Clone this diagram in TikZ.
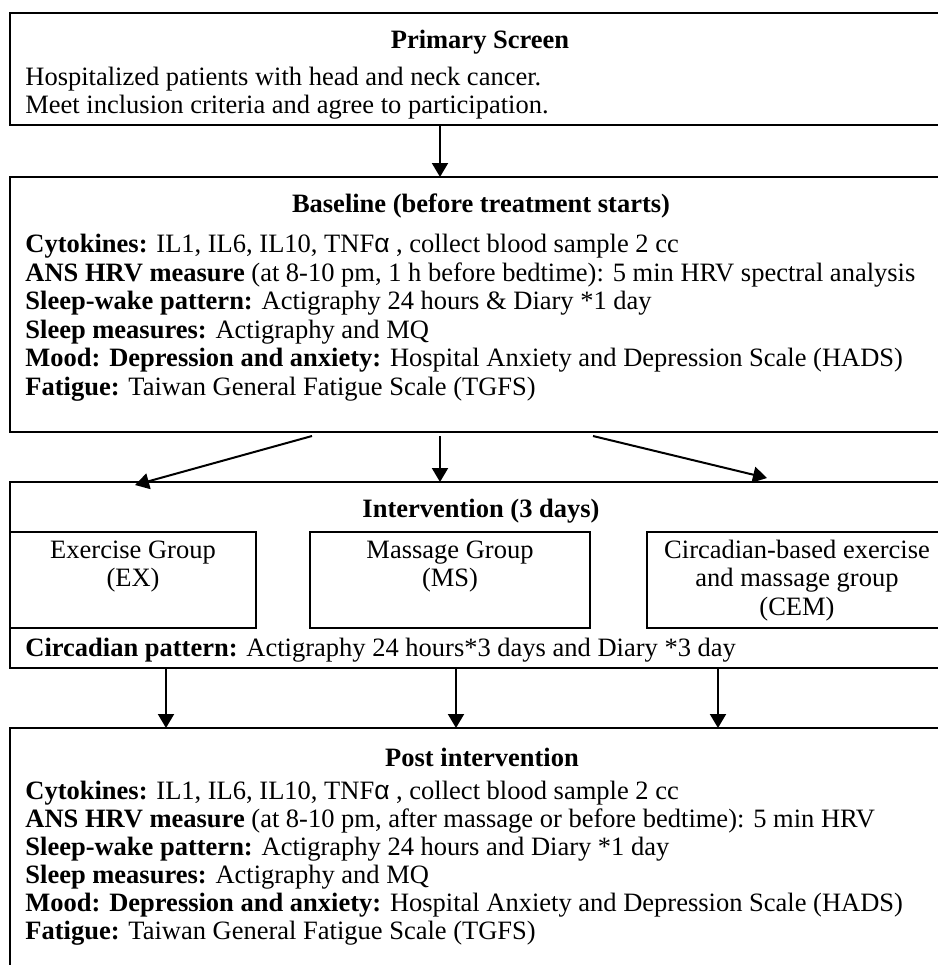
\documentclass[tikz,border=0pt]{standalone}
\usepackage{fontspec}
\setmainfont{Liberation Serif}
\newfontfamily\alphafont{Liberation Sans}
\usetikzlibrary{arrows.meta}
\newcommand{\alf}{{\alphafont α}}
\begin{document}
\begin{tikzpicture}[x=0.5pt,y=-0.5pt,
  box/.style={draw,line width=1pt,inner sep=0pt,outer sep=0pt,anchor=north west},
  conn/.style={line width=1pt,-{Triangle[length=7pt,width=8pt]}},
  txt/.style={anchor=base west,inner sep=0pt,font=\fontsize{13.25}{15}\selectfont},
  ttl/.style={anchor=base,inner sep=0pt,font=\fontsize{13.25}{15}\selectfont\bfseries},
  ctr/.style={anchor=base,inner sep=0pt,font=\fontsize{13.25}{15}\selectfont}]
\useasboundingbox (0,0) rectangle (938,965);
\clip (0,0) rectangle (938,965);
\fill[white] (0,0) rectangle (938,965);

% boxes
\node[box,minimum width=475pt,minimum height=56pt] (prim) at (10,13) {};
\node[box,minimum width=475pt,minimum height=127.5pt] (base) at (10,177) {};
\node[box,minimum width=475pt,minimum height=93pt] (intv) at (10,482) {};
\node[box,minimum width=123pt,minimum height=48pt] (ex) at (10,532) {};
\node[box,minimum width=140pt,minimum height=48pt] (ms) at (310,532) {};
\node[box,minimum width=200pt,minimum height=48pt] (cem) at (647,532) {};
\node[box,minimum width=475pt,minimum height=150pt] (post) at (10,728) {};

% primary screen
\node[ttl] (t1) at (480,48) {Primary Screen};
\node[txt] (p1) at (25,85) {Hospitalized patients with head and neck cancer.};
\node[txt] (p2) at (25,113) {Meet inclusion criteria and agree to participation.};

% baseline
\node[ttl] (t2) at (481,212) {Baseline (before treatment starts)};
\node[txt] (b1) at (25,252) {\textbf{Cytokines:} IL1, IL6, IL10, TNF\alf\ , collect blood sample 2 cc};
\node[txt] (b2) at (25,281) {\textbf{ANS HRV measure} (at 8-10 pm, 1 h before bedtime): 5 min HRV spectral analysis};
\node[txt] (b3) at (25,309) {\textbf{Sleep-wake pattern:} Actigraphy 24 hours \& Diary *1 day};
\node[txt] (b4) at (25,338) {\textbf{Sleep measures:} Actigraphy and MQ};
\node[txt] (b5) at (25,366) {\textbf{Mood: Depression and anxiety:} Hospital Anxiety and Depression Scale (HADS)};
\node[txt] (b6) at (25,395) {\textbf{Fatigue:} Taiwan General Fatigue Scale (TGFS)};

% intervention
\node[ttl] (t3) at (481,517) {Intervention (3 days)};
\node[ctr] (e1) at (133,558) {Exercise Group};
\node[ctr] (e2) at (133,586) {(EX)};
\node[ctr] (m1) at (450,558) {Massage Group};
\node[ctr] (m2) at (450,586) {(MS)};
\node[ctr] (c1) at (797,558) {Circadian-based exercise};
\node[ctr] (c2) at (797,586) {and massage group};
\node[ctr] (c3) at (797,615) {(CEM)};
\node[txt] (i1) at (25,656) {\textbf{Circadian pattern:} Actigraphy 24 hours*3 days and Diary *3 day};

% post
\node[ttl] (t4) at (482,766) {Post intervention};
\node[txt] (q1) at (25,799) {\textbf{Cytokines:} IL1, IL6, IL10, TNF\alf\ , collect blood sample 2 cc};
\node[txt] (q2) at (25,827) {\textbf{ANS HRV measure} (at 8-10 pm, after massage or before bedtime): 5 min HRV};
\node[txt] (q3) at (25,855) {\textbf{Sleep-wake pattern:} Actigraphy 24 hours and Diary *1 day};
\node[txt] (q4) at (25,883) {\textbf{Sleep measures:} Actigraphy and MQ};
\node[txt] (q5) at (25,911) {\textbf{Mood: Depression and anxiety:} Hospital Anxiety and Depression Scale (HADS)};
\node[txt] (q6) at (25,939) {\textbf{Fatigue:} Taiwan General Fatigue Scale (TGFS)};

% connectors
\coordinate (a1s) at (440,125); \coordinate (a1e) at (440,177);
\coordinate (a2s) at (312,436); \coordinate (a2e) at (135,485);
\coordinate (a3s) at (440,436); \coordinate (a3e) at (440,482);
\coordinate (a4s) at (593,436); \coordinate (a4e) at (767,478);
\coordinate (a5s) at (166,668); \coordinate (a5e) at (166,728);
\coordinate (a6s) at (456,668); \coordinate (a6e) at (456,728);
\coordinate (a7s) at (718,668); \coordinate (a7e) at (718,728);
\draw[conn] (a1s) -- (a1e);
\draw[conn] (a2s) -- (a2e);
\draw[conn] (a3s) -- (a3e);
\draw[conn] (a4s) -- (a4e);
\draw[conn] (a5s) -- (a5e);
\draw[conn] (a6s) -- (a6e);
\draw[conn] (a7s) -- (a7e);
\end{tikzpicture}
\end{document}
